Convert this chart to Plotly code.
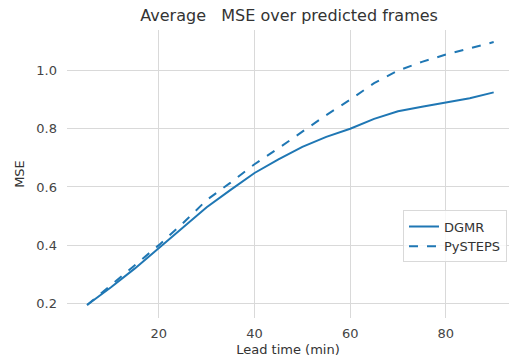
import plotly.graph_objects as go

lead_time = [5, 10, 15, 20, 25, 30, 35, 40, 45, 50, 55, 60, 65, 70, 75, 80, 85, 90]
dgmr = [0.194, 0.255, 0.32, 0.39, 0.46, 0.53, 0.59, 0.648, 0.695, 0.738, 0.772, 0.80,
        0.834, 0.86, 0.876, 0.89, 0.905, 0.925]
pysteps = [0.194, 0.262, 0.33, 0.40, 0.475, 0.555, 0.615, 0.678, 0.733, 0.79, 0.847, 0.90,
           0.957, 1.0, 1.03, 1.055, 1.077, 1.098]
x_ticks = [20, 40, 60, 80]
y_ticks = [0.2, 0.4, 0.6, 0.8, 1.0]
y_tick_labels = ["0.2", "0.4", "0.6", "0.8", "1.0"]

color = "#1f77b4"
fig = go.Figure()
fig.add_trace(go.Scatter(x=lead_time, y=dgmr, mode="lines", name="DGMR",
                         line=dict(color=color, width=2)))
fig.add_trace(go.Scatter(x=lead_time, y=pysteps, mode="lines", name="PySTEPS",
                         line=dict(color=color, width=2, dash="dash")))

font = "DejaVu Sans"
fig.update_layout(
    width=509, height=364,
    margin=dict(l=67, r=0, t=30, b=46),
    paper_bgcolor="white", plot_bgcolor="white",
    font=dict(family=font, size=13, color="#333333"),
    title=dict(text="Average   MSE over predicted frames", x=0.568, xanchor="center",
               y=0.958, yanchor="middle", font=dict(size=16, color="#333333")),
    showlegend=True,
    legend=dict(x=0.9955, y=0.283, xanchor="right", yanchor="middle",
                bgcolor="rgba(255,255,255,0.8)", bordercolor="#d9d9d9", borderwidth=1,
                font=dict(size=13, color="#333333"), tracegroupgap=0, itemwidth=30),
    xaxis=dict(range=[0.8, 93.2], tickvals=x_ticks, showgrid=True, gridcolor="#d9d9d9",
               gridwidth=1, zeroline=False, showline=False, ticks="", ticklabelstandoff=6,
               title=dict(text="Lead time (min)", font=dict(size=13), standoff=4),
               tickfont=dict(size=13, color="#444444")),
    yaxis=dict(range=[0.1495, 1.1395], tickvals=y_ticks, ticktext=y_tick_labels,
               showgrid=True, gridcolor="#d9d9d9", gridwidth=1, zeroline=False,
               showline=False, ticks="", ticklabelstandoff=9,
               title=dict(text="MSE", font=dict(size=13), standoff=8),
               tickfont=dict(size=13, color="#444444")),
)
fig.write_html("out.html")
